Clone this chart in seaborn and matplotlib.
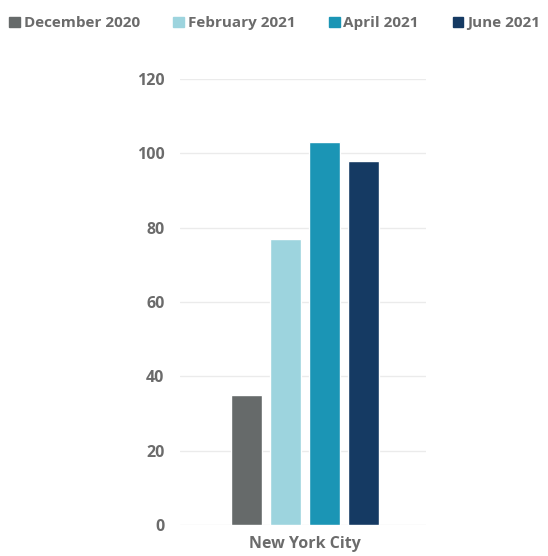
import pandas as pd
import matplotlib
matplotlib.use("Agg")
import matplotlib.pyplot as plt
import seaborn as sns

cities = ["New York City"]
periods = ["December 2020", "February 2021", "April 2021", "June 2021"]
values = [35, 77, 103, 98]
colors = ["#666a6a", "#9dd4de", "#1b95b5", "#153a63"]

df = pd.DataFrame({"city": cities * len(periods), "period": periods, "value": values})

sns.set_style("white")
plt.rcParams["font.family"] = ["Open Sans", "DejaVu Sans"]

fig = plt.figure(figsize=(5.48, 5.56), dpi=100)
ax = fig.add_axes([0.328, 0.0558, 0.449, 0.8022])

sns.barplot(data=df, x="city", y="value", hue="period", hue_order=periods,
            palette=colors, saturation=1, gap=0.2, width=0.8, ax=ax, legend=False)

ax.set_ylim(0, 120)
ax.set_xlim(-0.64, 0.62)
ax.set_yticks(range(0, 121, 20))
ax.yaxis.grid(True, color="#ebebeb", linewidth=1)
ax.set_axisbelow(True)
for s in ax.spines.values():
    s.set_visible(False)
ax.set_xlabel("")
ax.set_ylabel("")
ax.tick_params(axis="both", length=0, labelsize=11.5, labelcolor="#6b6b6b")
ax.tick_params(axis="y", pad=11)
ax.tick_params(axis="x", pad=8)
for t in ax.get_xticklabels() + ax.get_yticklabels():
    t.set_fontweight("bold")

# legend across the top
handles = [plt.Rectangle((0, 0), 1, 1, color=c) for c in colors]
fig.legend(handles, periods, loc="upper left", bbox_to_anchor=(-0.003, 0.99, 1.008, 0.0),
           mode="expand", ncol=4, frameon=False, handlelength=0.7, handleheight=0.7,
           handletextpad=0.25, borderaxespad=0.3,
           prop={"weight": "bold", "size": 11}, labelcolor="#6b6b6b")

fig.savefig("out.png", dpi=100)
